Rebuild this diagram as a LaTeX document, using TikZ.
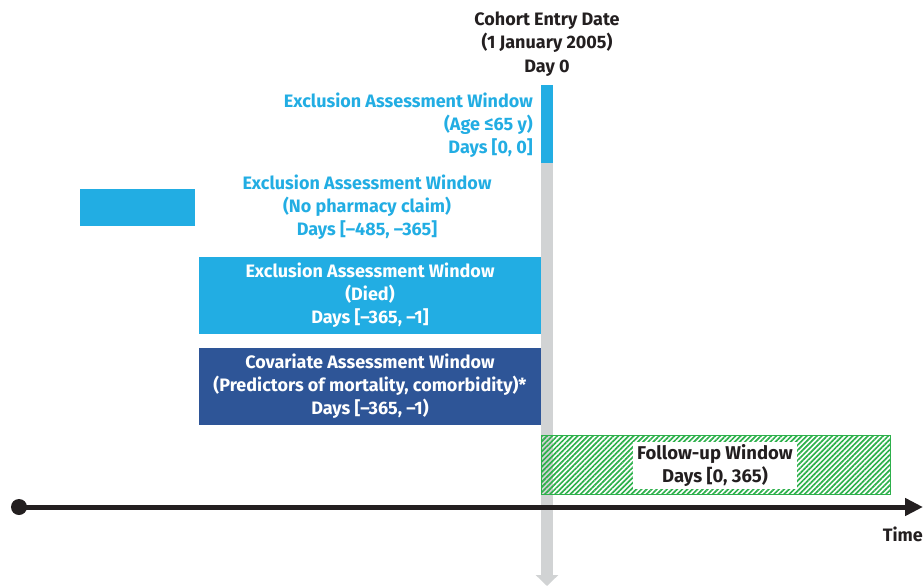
\documentclass[tikz,border=0pt]{standalone}
\usepackage{fontspec}
\setmainfont{Fira Sans}
\usetikzlibrary{arrows.meta,patterns.meta}
\definecolor{cblue}{HTML}{22ADE3}
\definecolor{cdark}{HTML}{2E5597}
\definecolor{cgreen}{HTML}{2DB04B}
\definecolor{cgray}{HTML}{D1D3D4}
\definecolor{cblack}{HTML}{231F20}
\begin{document}
\begin{tikzpicture}[x=1pt,y=-1pt,
  txt/.style={font=\fontsize{18}{23}\selectfont\bfseries, align=center, inner sep=0pt},
  bigtxt/.style={txt, font=\fontsize{18}{23.5}\selectfont\bfseries},
  futxt/.style={txt, font=\fontsize{18.5}{23}\selectfont\bfseries},
  win/.style={fill=cblue, minimum width=342pt, minimum height=77pt, inner sep=0pt, text=white},
  covwin/.style={win, fill=cdark},
  lbl/.style={txt, text=cblue}]
\useasboundingbox (0,0) rectangle (923,586);
% day-0 vertical arrow
\coordinate (vtop) at (547,85);
\coordinate (vbot) at (547,586);
\draw[cgray, line width=12pt, -{Triangle[length=11pt,width=22pt]}] (vtop) -- (vbot);
% header
\node[bigtxt, text=cblack] (hdr) at (547,44) {Cohort Entry Date\\(1 January 2005)\\Day 0};
% age window
\node[fill=cblue, minimum width=12pt, minimum height=78pt, inner sep=0pt] (agebar) at (547,124) {};
\node[lbl, anchor=east, align=right] (agetxt) at (533,125) {Exclusion Assessment Window\\(Age ≤65 y)\\Days [0, 0]};
% pharmacy window
\node[fill=cblue, minimum width=115pt, minimum height=37pt, inner sep=0pt] (pharmbar) at (137.5,207.5) {};
\node[lbl] (pharmtxt) at (367,207) {Exclusion Assessment Window\\(No pharmacy claim)\\Days [–485, –365]};
% died window
\node[win] (died) at (370,295.5) {\begin{tikzpicture}\node[txt,text=white]{Exclusion Assessment Window\\(Died)\\Days [–365, –1]};\end{tikzpicture}};
% covariate window
\node[covwin] (cov) at (370,386.5) {\begin{tikzpicture}\node[txt,text=white]{Covariate Assessment Window\\(Predictors of mortality, comorbidity)*\\Days [–365, –1)};\end{tikzpicture}};
% follow-up window
\node[draw=cgreen, line width=1pt, minimum width=349pt, minimum height=59pt, inner sep=0pt,
      pattern={Lines[angle=45,distance=3.6pt,line width=1.7pt]}, pattern color=cgreen] (fu) at (715.5,464.5) {};
\node[fill=white, minimum width=164pt, minimum height=47pt, inner sep=0pt] (fubox) at (715,465.5)
  {\begin{tikzpicture}\node[futxt,text=cblack]{Follow-up Window\\Days [0, 365)};\end{tikzpicture}};
% timeline
\node[circle, fill=cblack, minimum size=16pt, inner sep=0pt] (start) at (19,507) {};
\coordinate (tend) at (923,507);
\draw[cblack, line width=5pt, -{Triangle[length=18pt,width=17pt]}] (start.center) -- (tend);
\node[bigtxt, text=cblack, anchor=east] (time) at (923,534) {Time};
\end{tikzpicture}
\end{document}
